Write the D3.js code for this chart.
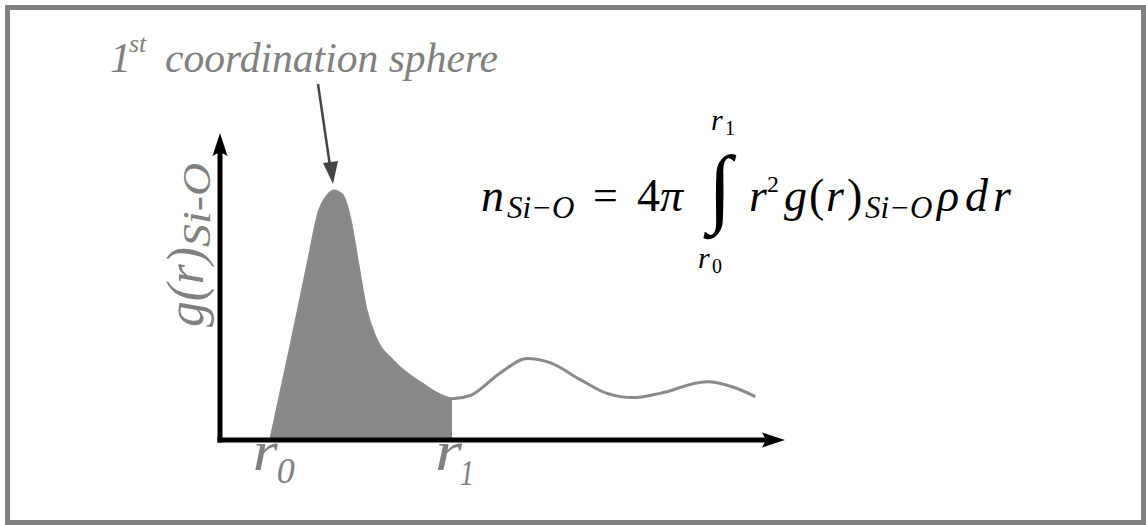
<!DOCTYPE html>
<html>
<head>
<meta charset="utf-8">
<script src="https://cdn.jsdelivr.net/npm/d3@7"></script>
<style>
  html, body { margin: 0; padding: 0; background: #fff; }
  svg { display: block; }
</style>
</head>
<body>
<svg id="chart"></svg>
<script>
// radial distribution curve (r and g(r) in arbitrary units)
const rVals = [0.89, 1.23, 1.54, 1.75, 1.88, 2.0, 2.14, 2.28, 2.42, 2.56, 2.72, 3.04, 3.51, 4.07,
               4.39, 4.91, 5.39, 5.79, 6.32, 6.79, 7.25, 7.72, 8.54, 9.0, 9.39];
const gVals = [0, 0.85, 1.65, 2.17, 2.30, 2.35, 2.31, 2.08, 1.65, 1.23, 0.97, 0.74, 0.54, 0.39,
               0.42, 0.63, 0.77, 0.73, 0.57, 0.44, 0.40, 0.44, 0.55, 0.50, 0.41];
// integration limits of the first shell
const r0 = 0.89, r1 = 4.07;

const W = 1146, H = 525;
const gray = "#808080";
const serif = '"Liberation Serif", "Times New Roman", serif';

const svg = d3.select("#chart").attr("width", W).attr("height", H);

// frame
svg.append("rect")
  .attr("x", 7.5).attr("y", 7.5)
  .attr("width", 1136).attr("height", 515)
  .attr("fill", "#fff")
  .attr("stroke", "#808080")
  .attr("stroke-width", 5);

const x = d3.scaleLinear().domain([0, 10]).range([220, 790]);
const y = d3.scaleLinear().domain([0, 3]).range([440, 122]);

const pts = rVals.map((r, i) => ({ r: r, g: gVals[i] }));
const shell = pts.filter(d => d.r >= r0 && d.r <= r1);

const area = d3.area()
  .x(d => x(d.r))
  .y0(y(0))
  .y1(d => y(d.g))
  .curve(d3.curveMonotoneX);

const line = d3.line()
  .x(d => x(d.r))
  .y(d => y(d.g))
  .curve(d3.curveMonotoneX);

svg.append("path")
  .datum(shell)
  .attr("d", area)
  .attr("fill", "#888888");

svg.append("path")
  .datum(pts)
  .attr("d", line)
  .attr("fill", "none")
  .attr("stroke", "#8a8a8a")
  .attr("stroke-width", 3);

// axes with arrow heads
const x0 = x(0), yb = y(0);
svg.append("line")
  .attr("x1", x0).attr("y1", yb + 2.5)
  .attr("x2", x0).attr("y2", 150)
  .attr("stroke", "#000").attr("stroke-width", 5);
svg.append("path")
  .attr("d", `M${x0},133 L${x0 + 7.5},156 L${x0},152 L${x0 - 7.5},156 Z`)
  .attr("fill", "#000");

svg.append("line")
  .attr("x1", x0 - 2.5).attr("y1", yb)
  .attr("x2", 768).attr("y2", yb)
  .attr("stroke", "#000").attr("stroke-width", 5);
svg.append("path")
  .attr("d", `M785,${yb} L762,${yb - 7.5} L766,${yb} L762,${yb + 7.5} Z`)
  .attr("fill", "#000");

// helper for a text piece
function put(str, px, py, size, opts) {
  opts = opts || {};
  const t = svg.append("text")
    .attr("x", px).attr("y", py)
    .style("font-family", serif)
    .style("font-size", size + "px")
    .style("font-style", opts.italic === false ? "normal" : "italic")
    .attr("fill", opts.fill || "#000")
    .text(str);
  if (opts.width) t.attr("textLength", opts.width).attr("lengthAdjust", "spacingAndGlyphs");
  return t;
}

// y axis label, rotated
const ylab = svg.append("g").attr("transform", "translate(203,327) rotate(-90)");
ylab.append("text")
  .style("font-family", serif).style("font-style", "italic").style("font-size", "52px")
  .attr("fill", gray)
  .attr("textLength", 80).attr("lengthAdjust", "spacingAndGlyphs")
  .text("g(r)");
ylab.append("text")
  .attr("x", 80).attr("y", 7)
  .style("font-family", serif).style("font-style", "italic").style("font-size", "41px")
  .attr("fill", gray)
  .attr("textLength", 84).attr("lengthAdjust", "spacingAndGlyphs")
  .text("Si-O");

// integration limits on the r axis
put("r", x(r0) - 18, 470, 56, { fill: gray, width: 25 });
put("0", x(r0) + 6, 483, 36, { fill: gray, width: 18 });
put("r", x(r1) - 17, 470, 56, { fill: gray, width: 27 });
put("1", x(r1) + 8, 485, 36, { fill: gray, width: 14 });

// annotation of the first peak
put("1", 110, 72, 42, { fill: gray });
put("st", 129, 52, 26, { fill: gray });
put("coordination sphere", 165, 72, 42, { fill: gray, width: 333 });

svg.append("line")
  .attr("x1", 318).attr("y1", 84)
  .attr("x2", 330).attr("y2", 166)
  .attr("stroke", "#444").attr("stroke-width", 2.5);
svg.append("path")
  .attr("d", "M333,184 L323,163 L338,161 Z")
  .attr("fill", "#444");

// coordination number formula
const base = 211;
put("n", 481, base, 46);
put("Si−O", 507, base + 7, 31);
put("=", 593, base - 1, 44, { italic: false });
put("4", 637, base, 46, { italic: false });
put("π", 660, base, 46);
put("∫", 708, 216, 87, { italic: false });
put("r", 711, 130, 30);
put("1", 725, 135, 20, { italic: false });
put("r", 698, 268, 30);
put("0", 712, 273, 20, { italic: false });
put("r", 749, base, 46);
put("2", 767, base - 19, 24, { italic: false });
put("g", 784, base, 46);
put("(", 809, base, 46, { italic: false });
put("r", 826, base, 46);
put(")", 847, base, 46, { italic: false });
put("Si−O", 865, base + 7, 31);
put("ρ", 937, base, 46);
put("d", 965, base, 46);
put("r", 993, base, 46);
</script>
</body>
</html>
